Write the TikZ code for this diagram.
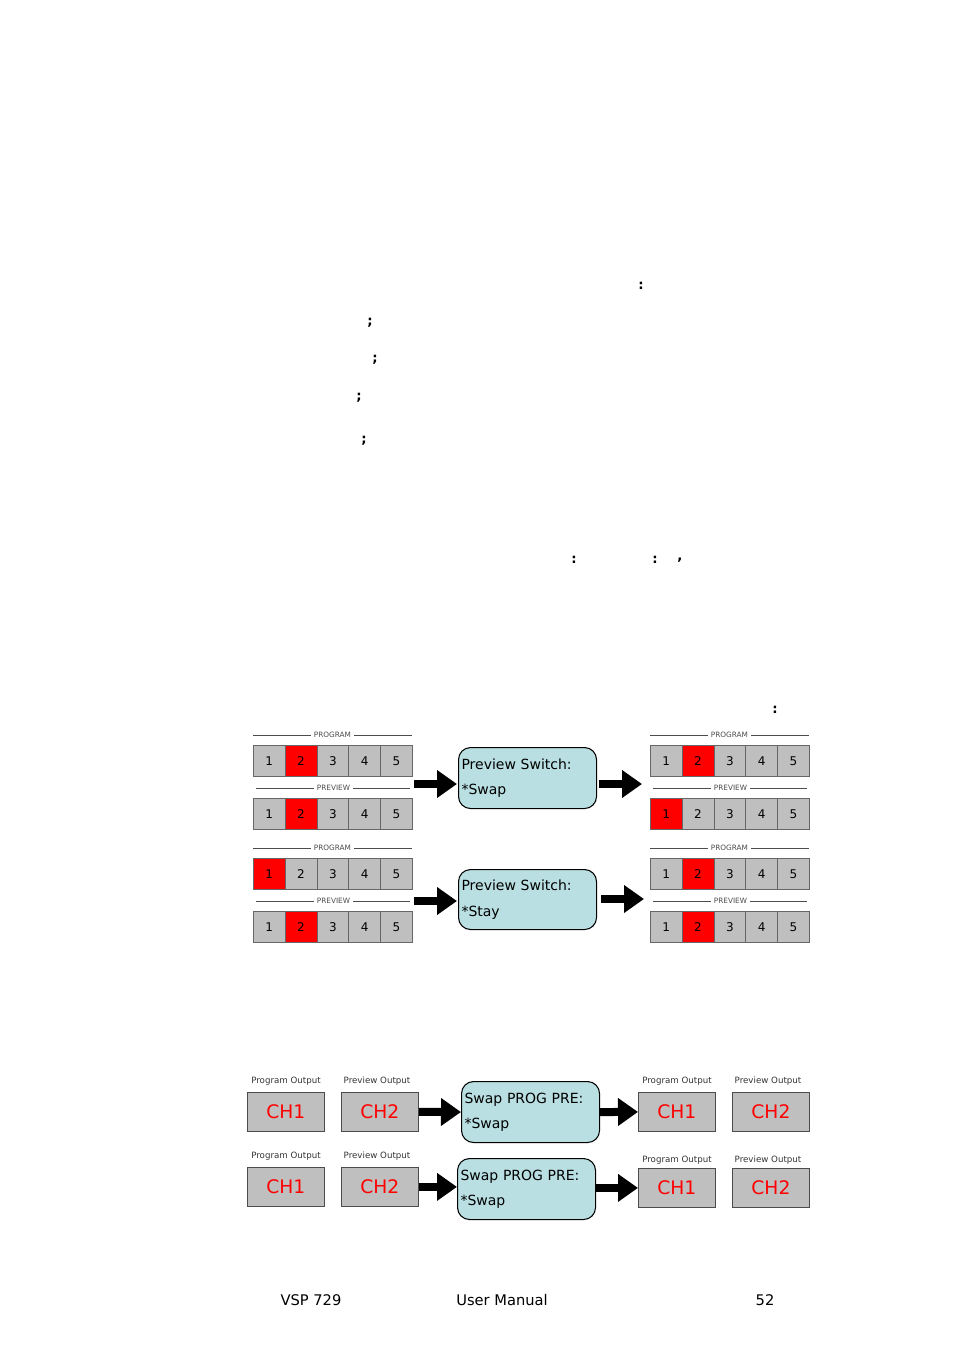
\documentclass[tikz,border=0pt]{standalone}
\usepackage{fontspec}
\setmainfont{DejaVu Sans}
\usetikzlibrary{arrows.meta}
\definecolor{boxc}{HTML}{B9DFE2}
\tikzset{
 cell/.style={draw=black!60,line width=0.5pt,minimum width=31.8*0.75pt,minimum height=31*0.75pt,inner sep=0pt,font=\fontsize{9}{10}\selectfont,anchor=north west},
 gcell/.style={cell,fill=black!25},
 rcell/.style={cell,fill=red},
 lbl/.style={font=\fontsize{5.5}{6}\selectfont,fill=white,inner xsep=2.5pt,inner ysep=1pt,text=black!70},
 msg/.style={draw,rounded corners=9pt,fill=boxc,line width=0.8pt,anchor=north west,minimum width=138*0.75pt,text width=132*0.75pt,align=left,font=\fontsize{10.5}{19}\selectfont,inner xsep=1.5pt,inner ysep=3pt},
 bigarr/.style={line width=6pt,-{Triangle[length=15pt,width=20pt]}},
 chbox/.style={draw=black!70,fill=black!25,line width=0.6pt,minimum width=77*0.75pt,minimum height=39*0.75pt,anchor=north west,text=red,font=\fontsize{14}{16}\selectfont,inner sep=0pt},
 olbl/.style={font=\fontsize{6.5}{7}\selectfont,text=black!80},
 punct/.style={font=\fontsize{10}{12}\selectfont\bfseries}
}
\newcommand{\myrow}[4]{% x, y, red index, name
 \foreach \i in {1,...,5}{
   \ifnum\i=#3 \node[rcell] (#4\i) at ({#1+(\i-1)*31.8},#2) {\i};
   \else \node[gcell] (#4\i) at ({#1+(\i-1)*31.8},#2) {\i}; \fi}}
\newcommand{\mypanel}[5]{% x,y,progred,prevred,name
 \draw[black!70,line width=0.5pt] (#1,#2) -- ({#1+159},#2);
 \node[lbl] at ({#1+79.5},#2) {PROGRAM};
 \myrow{#1}{#2+10}{#3}{#5a}
 \draw[black!70,line width=0.5pt] ({#1+3},#2+53) -- ({#1+157},#2+53);
 \node[lbl] at ({#1+80.5},#2+53) {PREVIEW};
 \myrow{#1}{#2+63}{#4}{#5b}}
\begin{document}
\begin{tikzpicture}[x=0.75pt,y=-0.75pt]
\useasboundingbox (0,0) rectangle (954,1350);
\node[punct] (p1) at (641,286) {:};
\node[punct] (p2) at (370,323) {;};
\node[punct] (p3) at (375,360) {;};
\node[punct] (p4) at (359,398) {;};
\node[punct] (p5) at (364,441) {;};
\node[punct] (p6) at (574,560) {:};
\node[punct] (p7) at (655,560) {:};
\node[punct] (p8) at (680,560) {,};
\node[punct] (p9) at (775,710) {:};
\mypanel{253}{735}{2}{2}{A}
\mypanel{650}{735}{2}{1}{B}
\mypanel{253}{848}{1}{2}{C}
\mypanel{650}{848}{2}{2}{D}
\node[msg,minimum height=61*0.75pt] (m1) at (458,747) {Preview Switch:\\{}*Swap};
\node[msg,minimum height=60*0.75pt] (m2) at (458,869) {Preview Switch:\\{}*Stay};
\coordinate (a1s) at (414,784); \coordinate (a1e) at (457,784);
\coordinate (a2s) at (599,784); \coordinate (a2e) at (642,784);
\coordinate (a3s) at (414,901); \coordinate (a3e) at (457,901);
\coordinate (a4s) at (601,899); \coordinate (a4e) at (644,899);
\draw[bigarr] (a1s) -- (a1e);
\draw[bigarr] (a2s) -- (a2e);
\draw[bigarr] (a3s) -- (a3e);
\draw[bigarr] (a4s) -- (a4e);
\node[olbl] (l1) at (286,1081) {Program Output};
\node[olbl] (l2) at (377,1081) {Preview Output};
\node[olbl] (l3) at (677,1081) {Program Output};
\node[olbl] (l4) at (768,1081) {Preview Output};
\node[chbox] (c1) at (247,1092) {CH1};
\node[chbox] (c2) at (341,1092) {CH2};
\node[chbox] (c3) at (638,1092) {CH1};
\node[chbox] (c4) at (732,1092) {CH2};
\node[olbl] (l5) at (286,1156) {Program Output};
\node[olbl] (l6) at (377,1156) {Preview Output};
\node[olbl] (l7) at (677,1160) {Program Output};
\node[olbl] (l8) at (768,1160) {Preview Output};
\node[chbox] (c5) at (247,1167) {CH1};
\node[chbox] (c6) at (341,1167) {CH2};
\node[chbox] (c7) at (638,1168) {CH1};
\node[chbox] (c8) at (732,1168) {CH2};
\node[msg,minimum height=61*0.75pt] (m3) at (461,1081) {Swap PROG PRE:\\{}*Swap};
\node[msg,minimum height=61*0.75pt] (m4) at (457,1158) {Swap PROG PRE:\\{}*Swap};
\draw[bigarr] (c2.east) -- (m3.west);
\draw[bigarr] (m3.east) -- (c3.west);
\draw[bigarr] (c6.east) -- (m4.west |- c6.east);
\draw[bigarr] (m4.east |- c7.west) -- (c7.west);
\node[font=\fontsize{11}{13}\selectfont] (f1) at (311,1300) {VSP 729};
\node[font=\fontsize{11}{13}\selectfont] (f2) at (502,1300) {User Manual};
\node[font=\fontsize{11}{13}\selectfont] (f3) at (765,1300) {52};
\end{tikzpicture}
\end{document}
